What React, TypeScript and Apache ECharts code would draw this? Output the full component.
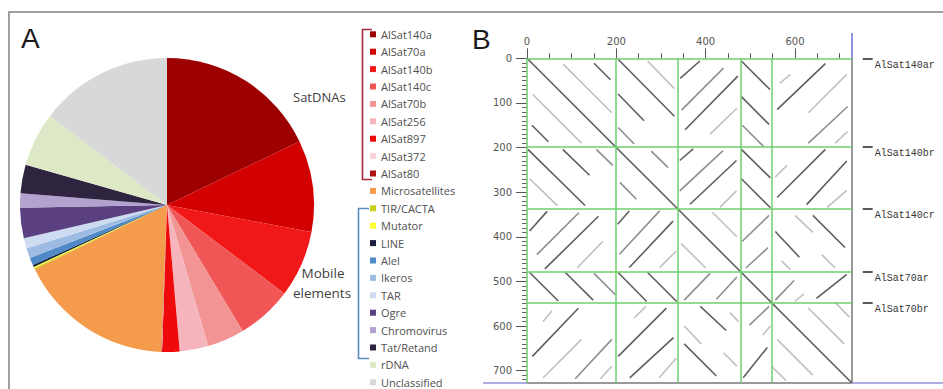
import React, { useEffect, useRef } from 'react';
import * as echarts from 'echarts';

// ---------- Panel A data ----------
const pieNames = ['AlSat140a', 'AlSat70a', 'AlSat140b', 'AlSat140c', 'AlSat70b', 'AlSat256', 'AlSat897', 'AlSat372', 'AlSat80', 'Microsatellites', 'TIR/CACTA', 'Mutator', 'LINE', 'Alel', 'Ikeros', 'TAR', 'Ogre', 'Chromovirus', 'Tat/Retand', 'rDNA', 'Unclassified'];
const pieValues = [64.3, 36.2, 26.4, 22.0, 14.7, 11.3, 6.9, 0.2, 0.2, 61.7, 0.5, 0.5, 0.8, 3, 4, 4, 12, 5.7, 11.3, 21.3, 52.7];
const pieColors = ['#9c0000', '#d20000', '#f01818', '#f05656', '#f39494', '#f6b5bc', '#ee0a0a', '#f8d2d8', '#b01212', '#f59c4c', '#c8d020', '#ffff30', '#1a1f40', '#4f8ac7', '#9dbbe3', '#cddcf0', '#5a4080', '#b3a2cf', '#2e2440', '#dde8c6', '#d8d8d8'];

// ---------- Panel B data ----------
const blockNames = ['AlSat140a', 'AlSat140b', 'AlSat140c', 'AlSat70a', 'AlSat70b'];
const blockStarts = [0, 198, 337, 478, 547];
const seqLength = 727;
const xTickLabels = [0, 200, 400, 600];
const yTickLabels = [0, 100, 200, 300, 400, 500, 600, 700];
const shadeColors = ['#5e5e5e', '#8e8e8e', '#c0c0c0'];

// [x1, y1, x2, y2, shade]
const mainDiagonal = [[0, 0, 727, 727, 0]];
const dotSegmentsUpper = [
  [81, 13, 190, 122, 2], [150, 11, 187, 48, 0],
  [204, 2, 330, 130, 0], [270, 6, 330, 68, 2], [204, 80, 262, 140, 0], [204, 155, 240, 192, 1],
  [343, 45, 387, 6, 0], [346, 116, 440, 22, 1], [354, 160, 472, 40, 0], [410, 170, 470, 112, 2],
  [480, 6, 544, 70, 0], [480, 86, 542, 148, 0], [482, 150, 530, 198, 1],
  [560, 115, 668, 12, 0], [566, 56, 590, 36, 2], [630, 122, 716, 36, 2], [630, 190, 718, 108, 1], [690, 190, 718, 164, 2],
  [278, 208, 316, 245, 1],
  [342, 229, 372, 203, 0], [342, 297, 439, 207, 1], [365, 327, 469, 229, 0], [432, 334, 469, 297, 2],
  [480, 204, 545, 268, 0], [480, 270, 545, 335, 0],
  [560, 312, 668, 204, 0], [626, 328, 716, 230, 0], [672, 334, 716, 296, 2], [556, 266, 582, 240, 2],
  [415, 345, 470, 400, 2],
  [482, 410, 542, 352, 1], [490, 470, 540, 424, 1],
  [556, 388, 610, 446, 0], [600, 352, 640, 390, 2], [640, 352, 712, 424, 0], [570, 454, 590, 474, 2], [660, 440, 690, 470, 2],
  [556, 542, 598, 498, 1], [648, 538, 716, 484, 0], [600, 545, 620, 528, 2],
  [630, 560, 710, 640, 2], [690, 547, 722, 580, 2],
];
const dotSegmentsLower = [
  [13, 81, 122, 190, 2], [11, 150, 48, 187, 0],
  [2, 204, 130, 330, 0], [6, 270, 68, 330, 2], [80, 204, 140, 262, 0], [155, 204, 192, 240, 1],
  [45, 343, 6, 387, 0], [116, 346, 22, 440, 1], [160, 354, 40, 472, 0], [170, 410, 112, 470, 2],
  [6, 480, 70, 544, 0], [86, 480, 148, 542, 0], [150, 482, 198, 530, 1],
  [115, 560, 12, 668, 0], [56, 566, 36, 590, 2], [122, 630, 36, 716, 2], [190, 630, 108, 718, 1], [190, 690, 164, 718, 2],
  [208, 278, 245, 316, 1],
  [229, 342, 203, 372, 0], [297, 342, 207, 439, 1], [327, 365, 229, 469, 0], [334, 432, 297, 469, 2],
  [204, 480, 268, 545, 0], [270, 480, 335, 545, 0],
  [312, 560, 204, 668, 0], [328, 626, 230, 716, 0], [334, 672, 296, 716, 2], [266, 556, 240, 582, 2],
  [345, 415, 400, 470, 2],
  [410, 482, 352, 542, 1], [470, 490, 424, 540, 1],
  [388, 556, 446, 610, 0], [352, 600, 390, 640, 2], [352, 640, 424, 712, 0], [454, 570, 474, 590, 2], [440, 660, 470, 690, 2],
  [542, 556, 498, 598, 1], [538, 648, 484, 716, 0], [545, 600, 528, 620, 2],
  [560, 630, 640, 710, 2], [547, 690, 580, 722, 2],
];

const xMinorTicks: number[] = [];
for (let v = 50; v <= 700; v += 50) if (v % 200 !== 0) xMinorTicks.push(v);
const yMinorTicks: number[] = [];
for (let v = 10; v <= 720; v += 10) if (v % 100 !== 0) yMinorTicks.push(v);

export default function App() {
  const ref = useRef<HTMLDivElement>(null);
  useEffect(() => {
    if (!ref.current) return;
    const chart = echarts.init(ref.current, null, { renderer: 'svg' });

    const segs = [...mainDiagonal, ...dotSegmentsUpper, ...dotSegmentsLower].map((s) => ({
      coords: [[s[0], s[1]], [s[2], s[3]]],
      lineStyle: { color: shadeColors[s[4]] },
    }));
    const greenLines: any[] = [];
    blockStarts.forEach((b) => {
      greenLines.push({ coords: [[b, 0], [b, seqLength]] });
      greenLines.push({ coords: [[0, b], [seqLength, b]] });
    });

    const axisBase = { type: 'value', min: 0, max: seqLength, splitLine: { show: false }, axisLine: { show: false } };
    const labelStyle = { fontFamily: 'DejaVu Sans', fontSize: 10, color: '#555' };

    chart.setOption({
      animation: false,
      legend: {
        orient: 'vertical', left: 370, top: 28.3, height: 380, padding: 0, itemWidth: 6, itemHeight: 6, itemGap: 5.4,
        icon: 'rect', selectedMode: false, data: pieNames,
        textStyle: { fontFamily: 'Open Sans', fontSize: 11, color: '#505050', lineHeight: 12 },
      },
      grid: { left: 527, top: 58.3, width: 324.7, height: 324.4 },
      xAxis: [
        { ...axisBase, position: 'top', axisTick: { customValues: xTickLabels, length: 10, lineStyle: { color: '#555' } }, axisLabel: { customValues: xTickLabels, margin: 12, ...labelStyle } },
        { ...axisBase, position: 'top', axisTick: { customValues: xMinorTicks, length: 5, lineStyle: { color: '#555' } }, axisLabel: { show: false } },
      ],
      yAxis: [
        { ...axisBase, inverse: true, position: 'left', axisTick: { customValues: yTickLabels, length: 11, lineStyle: { color: '#555' } }, axisLabel: { customValues: yTickLabels, margin: 15, ...labelStyle } },
        { ...axisBase, inverse: true, position: 'left', axisTick: { customValues: yMinorTicks, length: 5, lineStyle: { color: '#666' } }, axisLabel: { show: false } },
        {
          ...axisBase, inverse: true, position: 'right', offset: 11,
          axisTick: { customValues: blockStarts, length: 10, lineStyle: { color: '#222', width: 1.5 } },
          axisLabel: {
            customValues: blockStarts, margin: 12, verticalAlign: 'top', padding: [2, 0, 0, 0],
            fontFamily: 'Liberation Mono', fontSize: 10, color: '#333',
            formatter: (v: number) => blockNames[blockStarts.indexOf(v)] + 'r',
          },
        },
      ],
      series: [
        {
          type: 'pie', center: [167, 205], radius: 147, startAngle: 90, clockwise: true,
          label: { show: false }, labelLine: { show: false }, silent: true, emphasis: { disabled: true },
          itemStyle: { borderWidth: 0 },
          data: pieNames.map((n, i) => ({ name: n, value: pieValues[i], itemStyle: { color: pieColors[i] } })),
        },
        {
          type: 'lines', coordinateSystem: 'cartesian2d', xAxisIndex: 0, yAxisIndex: 0, silent: true,
          lineStyle: { width: 1.6, opacity: 1 }, data: segs, z: 2,
        },
        {
          type: 'lines', coordinateSystem: 'cartesian2d', xAxisIndex: 0, yAxisIndex: 0, silent: true,
          lineStyle: { width: 1.5, color: '#6fcf6f', opacity: 1 }, data: greenLines, z: 3,
        },
      ],
      graphic: [
        { type: 'line', shape: { x1: 8, y1: 12, x2: 943, y2: 12 }, style: { stroke: '#a0a0a0', lineWidth: 2 } },
        { type: 'line', shape: { x1: 9, y1: 12, x2: 9, y2: 389 }, style: { stroke: '#a0a0a0', lineWidth: 2 } },
        { type: 'text', left: 21, top: 24, style: { text: 'A', fontFamily: 'Liberation Sans', fontSize: 28, fill: '#1a1a1a' } },
        { type: 'text', left: 472, top: 25, style: { text: 'B', fontFamily: 'Liberation Sans', fontSize: 28, fill: '#1a1a1a' } },
        { type: 'polyline', shape: { points: [[372, 29.5], [362.5, 29.5], [362.5, 179.5], [372, 179.5]] }, style: { stroke: '#a52a3a', lineWidth: 1.6, fill: 'none' } },
        { type: 'polyline', shape: { points: [[369, 208.5], [358.5, 208.5], [358.5, 358.5], [369, 358.5]] }, style: { stroke: '#5b8bc0', lineWidth: 1.6, fill: 'none' } },
        { type: 'text', x: 293, y: 97, style: { text: 'SatDNAs', fontFamily: 'Open Sans', fontSize: 13, fill: '#404040', verticalAlign: 'middle' }, z: 10 },
        { type: 'text', x: 323, y: 273, style: { text: 'Mobile', fontFamily: 'Open Sans', fontSize: 13.5, fill: '#404040', align: 'center', verticalAlign: 'middle' }, z: 10 },
        { type: 'text', x: 322, y: 293, style: { text: 'elements', fontFamily: 'Open Sans', fontSize: 13.5, fill: '#404040', align: 'center', verticalAlign: 'middle' }, z: 10 },
        { type: 'line', shape: { x1: 852, y1: 58, x2: 852, y2: 383 }, style: { stroke: '#777', lineWidth: 1.5 } },
        { type: 'line', shape: { x1: 852, y1: 33, x2: 852, y2: 58 }, style: { stroke: '#7070d0', lineWidth: 1.5 } },
        { type: 'line', shape: { x1: 527, y1: 383, x2: 852, y2: 383 }, style: { stroke: '#777', lineWidth: 1.5 } },
        { type: 'line', shape: { x1: 483, y1: 383, x2: 527, y2: 383 }, style: { stroke: '#9090d8', lineWidth: 1.5 } },
        { type: 'line', shape: { x1: 852, y1: 383, x2: 943, y2: 383 }, style: { stroke: '#9090d8', lineWidth: 1.5 } },
      ],
    });
    return () => chart.dispose();
  }, []);
  return <div ref={ref} style={{ position: 'fixed', left: 0, top: 0, width: 943, height: 389, background: '#fff' }} />;
}
